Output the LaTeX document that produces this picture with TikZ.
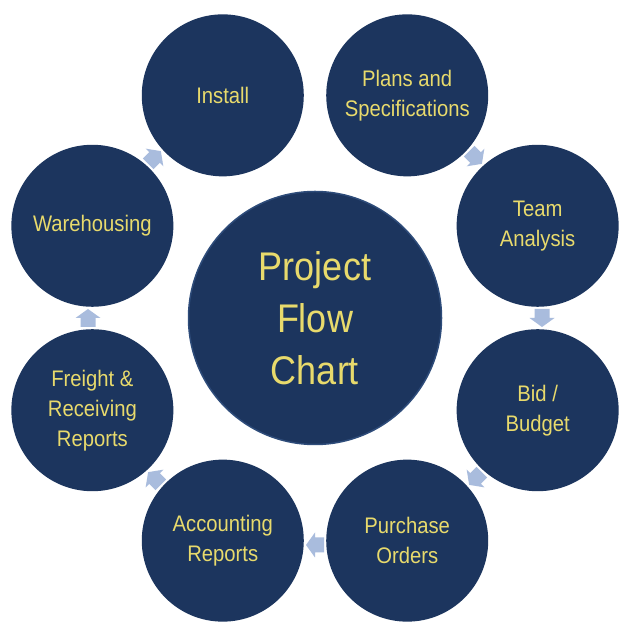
\documentclass[tikz,border=0pt]{standalone}
\usepackage{fontspec}
\setmainfont{Liberation Sans}
\newfontfamily\narrowsans{Liberation Sans}[FakeStretch=0.9]
\usetikzlibrary{calc}
\definecolor{navy}{HTML}{1C355E}
\definecolor{navyedge}{HTML}{2E4C7A}
\definecolor{textyellow}{HTML}{E8DA6C}
\definecolor{arrowc}{HTML}{A9BCDD}
\tikzset{
  outercirc/.style={circle, fill=navy, minimum size=162pt, inner sep=0pt,
    text=textyellow, align=center, font=\narrowsans\fontsize{22.5}{30}\selectfont},
  centercirc/.style={circle, fill=navy, draw=navyedge, line width=1.5pt,
    minimum size=253pt, inner sep=0pt, text=textyellow, align=center,
    font=\narrowsans\fontsize{40}{52}\selectfont},
  flowarrow/.style={fill=arrowc}
}
\begin{document}
\begin{tikzpicture}[x=1pt,y=1pt]
\useasboundingbox (0,0) rectangle (631,631);
\fill[white] (0,0) rectangle (631,631);
\coordinate (c) at (315,313);
% arrows (behind circles)
\foreach \b in {45,0,-45,-90,-135,180,135}{
  \fill[flowarrow, shift={({315+227*cos(\b)},{313+227*sin(\b)})}, rotate=\b-90]
    (-9,-7.5) -- (0,-7.5) -- (0,-12.5) -- (9,0) -- (0,12.5) -- (0,7.5) -- (-9,7.5) -- cycle;
}
\node[centercirc] (center) at (c) {Project\\Flow\\Chart};
\node[outercirc] (install) at ($(c)+(112.5:241)$) {Install};
\node[outercirc] (plans) at ($(c)+(67.5:241)$) {Plans and\\Specifications};
\node[outercirc] (team) at ($(c)+(22.5:241)$) {Team\\Analysis};
\node[outercirc] (bid) at ($(c)+(-22.5:241)$) {Bid /\\Budget};
\node[outercirc] (purchase) at ($(c)+(-67.5:241)$) {Purchase\\Orders};
\node[outercirc] (accounting) at ($(c)+(-112.5:241)$) {Accounting\\Reports};
\node[outercirc] (freight) at ($(c)+(-157.5:241)$) {Freight \&\\Receiving\\Reports};
\node[outercirc] (warehousing) at ($(c)+(157.5:241)$) {Warehousing};
\end{tikzpicture}
\end{document}
